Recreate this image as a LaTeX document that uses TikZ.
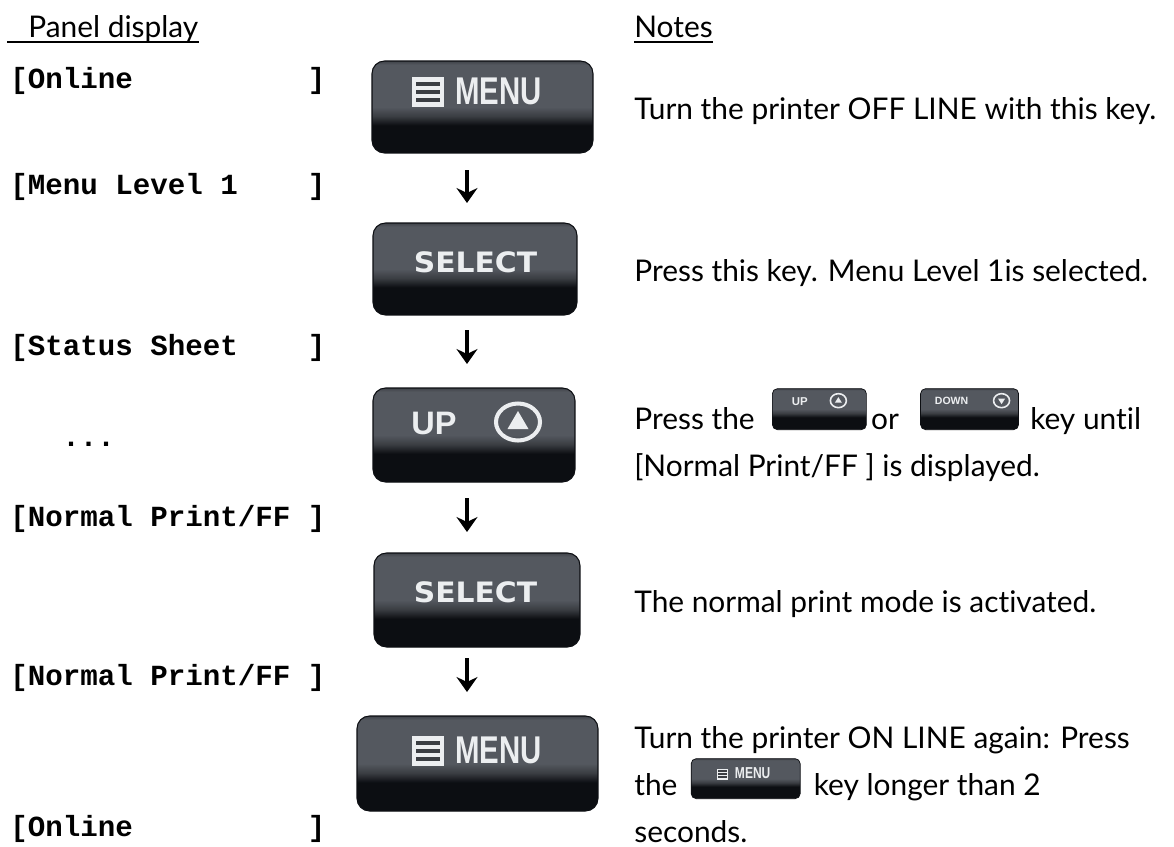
\documentclass[tikz,border=0pt]{standalone}
\usepackage{fontspec}
\usepackage{graphicx}
\setmainfont{Lato}[Ligatures=NoCommon]
\newfontfamily\panelfont{Liberation Mono}
\newfontfamily\keyfont{Liberation Sans}
\newfontfamily\widekeyfont{DejaVu Sans}
\usetikzlibrary{arrows.meta,positioning}

\definecolor{keygray}{RGB}{84,88,95}
\definecolor{keylow}{RGB}{58,61,66}
\definecolor{keytop}{RGB}{64,67,73}
\definecolor{keydark}{RGB}{12,14,18}
\definecolor{keywhite}{RGB}{236,238,240}
\pgfdeclareverticalshading{keyshade}{100bp}{color(0bp)=(keydark); color(40bp)=(keydark);
  color(45bp)=(keylow); color(50bp)=(keygray); color(73bp)=(keygray); color(75bp)=(keytop); color(100bp)=(keytop)}

\tikzset{
  menuglyph/.pic={
    \fill[keywhite] (-16,-15) rectangle (16,15);
    \foreach \yy in {-8,0,8}
      \fill[keygray!70!black] (-12,\yy-2.2) rectangle (12,\yy+2.2);
  }
}

\begin{document}
\begin{tikzpicture}[x=0.02cm,y=-0.02cm,>={Stealth[length=3mm,width=4.2mm,inset=1mm]},
  head/.style={anchor=base west,inner sep=0pt,font=\fontsize{17}{20}\selectfont},
  disp/.style={anchor=base west,inner sep=0pt,font=\panelfont\bfseries\fontsize{16.6}{20}\selectfont},
  note/.style={anchor=base west,inner sep=0pt,font=\fontsize{17}{20}\selectfont},
  key/.style={shade,shading=keyshade,draw=keydark,line width=0.6pt,rounded corners=0.25cm,inner sep=0pt},
  smallkey/.style={key,rounded corners=0.1cm,line width=0.4pt,anchor=south west},
  keytxt/.style={text=keywhite,inner sep=0pt},
  flowarrow/.style={->,line width=2pt}]
  \useasboundingbox (0,0) rectangle (1174,846);

  % column heads
  \node[head] (hpanel) at (28,37) {Panel display};
  \node[head] (hnotes) at (634,37) {Notes};
  \draw[line width=1pt] (7,42) -- (hpanel.east |- 7,42);
  \draw[line width=1pt] (hnotes.west |- 7,42) -- (hnotes.east |- 7,42);

  % panel display
  \node[disp] (dOnlineA) at (10,88) {[Online~~~~~~~~~~]};
  \node[disp] (dMenu) at (10,194) {[Menu Level 1~~~~]};
  \node[disp] (dStatus) at (10,355) {[Status Sheet~~~~]};
  \node[disp] (dDots) at (62,446) {...};
  \node[disp] (dNormalA) at (10,526) {[Normal Print/FF ]};
  \node[disp] (dNormalB) at (10,685) {[Normal Print/FF ]};
  \node[disp] (dOnlineB) at (10,836) {[Online~~~~~~~~~~]};

  % keys
  \node[key,minimum width=4.42cm,minimum height=1.84cm] (menuA) at (482.5,107) {};
  \pic at (428,92) {menuglyph};
  \node[keytxt,font=\keyfont\bfseries\fontsize{22}{22}\selectfont] (menuAtxt) at (498.5,91) {\scalebox{0.76}[1]{MENU}};

  \node[key,minimum width=4.08cm,minimum height=1.84cm] (selA) at (475,269) {};
  \node[keytxt,font=\widekeyfont\bfseries\fontsize{16}{16}\selectfont] (selAtxt) at (475.5,262) {\scalebox{1.06}[1]{SELECT}};

  \node[key,minimum width=4.04cm,minimum height=1.88cm] (upkey) at (474,435) {};
  \node[keytxt,font=\keyfont\bfseries\fontsize{18.5}{18.5}\selectfont] (upkeytxt) at (434,423.5) {UP};
  \draw[keywhite,line width=2.3pt] (518,422) ellipse [x radius=0.44cm,y radius=0.37cm];
  \fill[keywhite] (518,411) -- (528.5,429) -- (507.5,429) -- cycle;

  \node[key,minimum width=4.12cm,minimum height=1.88cm] (selB) at (477,600) {};
  \node[keytxt,font=\widekeyfont\bfseries\fontsize{16}{16}\selectfont] (selBtxt) at (475.5,592) {\scalebox{1.06}[1]{SELECT}};

  \node[key,minimum width=4.82cm,minimum height=1.9cm] (menuB) at (477.5,763.5) {};
  \pic at (428,751) {menuglyph};
  \node[keytxt,font=\keyfont\bfseries\fontsize{22}{22}\selectfont] (menuBtxt) at (498.5,750) {\scalebox{0.76}[1]{MENU}};

  % arrows between the keys
  \foreach \ya/\yb [count=\i] in {170/203,330/364,498/532,658/692} {
    \coordinate (arS\i) at (467,\ya);
    \coordinate (arE\i) at (467,\yb);
    \draw[flowarrow] (arS\i) -- (arE\i);
  }

  % notes
  \node[note] (n1) at (634,119) {Turn the printer OFF LINE with this key.};
  \node[note] (n2) at (634,281) {Press this key. Menu Level 1is selected.};

  \node[note] (n3a) at (634,429) {Press the};
  \node[smallkey,minimum width=1.88cm,minimum height=0.82cm] (upS) at ([xshift=0.34cm,yshift=-0.02cm]n3a.base east) {};
  \node[keytxt,font=\keyfont\bfseries\fontsize{6.5}{6.5}\selectfont] (upStxt) at ([xshift=-0.39cm,yshift=0.16cm]upS.center) {UP};
  \draw[keywhite,line width=0.9pt] ([xshift=0.38cm,yshift=0.17cm]upS.center) ellipse [x radius=0.16cm,y radius=0.14cm];
  \fill[keywhite] ([xshift=0.38cm,yshift=0.24cm]upS.center) -- ++(0.07cm,-0.11cm) -- ++(-0.14cm,0) -- cycle;
  \node[note] (n3or) at ([xshift=0.08cm]upS.east |- n3a.base) {or};
  \node[smallkey,minimum width=1.96cm,minimum height=0.82cm] (downS) at ([xshift=0.42cm,yshift=-0.02cm]n3or.base east) {};
  \node[keytxt,font=\keyfont\bfseries\fontsize{6}{6}\selectfont] (downStxt) at ([xshift=-0.36cm,yshift=0.16cm]downS.center) {DOWN};
  \draw[keywhite,line width=0.9pt] ([xshift=0.64cm,yshift=0.17cm]downS.center) ellipse [x radius=0.16cm,y radius=0.14cm];
  \fill[keywhite] ([xshift=0.64cm,yshift=0.1cm]downS.center) -- ++(0.07cm,0.11cm) -- ++(-0.14cm,0) -- cycle;
  \node[note] (n3b) at ([xshift=0.22cm]downS.east |- n3a.base) {key until};
  \node[note] (n3c) at (634,476) {[Normal Print/FF ] is displayed.};

  \node[note] (n4) at (634,612) {The normal print mode is activated.};

  \node[note] (n5a) at (634,748) {Turn the printer ON LINE again: Press};
  \node[note] (n5b) at (634,795) {the};
  \node[smallkey,minimum width=2.18cm,minimum height=0.8cm] (menuS) at ([xshift=0.26cm,yshift=-0.08cm]n5b.base east) {};
  \pic[scale=0.36] at ([xshift=-0.46cm,yshift=0.09cm]menuS.center) {menuglyph};
  \node[keytxt,font=\keyfont\bfseries\fontsize{9}{9}\selectfont] (menuStxt) at ([xshift=0.14cm,yshift=0.11cm]menuS.center) {\scalebox{0.76}[1]{MENU}};
  \node[note] (n5c) at ([xshift=0.26cm]menuS.east |- n5b.base) {key longer than 2};
  \node[note] (n5d) at (634,842) {seconds.};
\end{tikzpicture}
\end{document}
